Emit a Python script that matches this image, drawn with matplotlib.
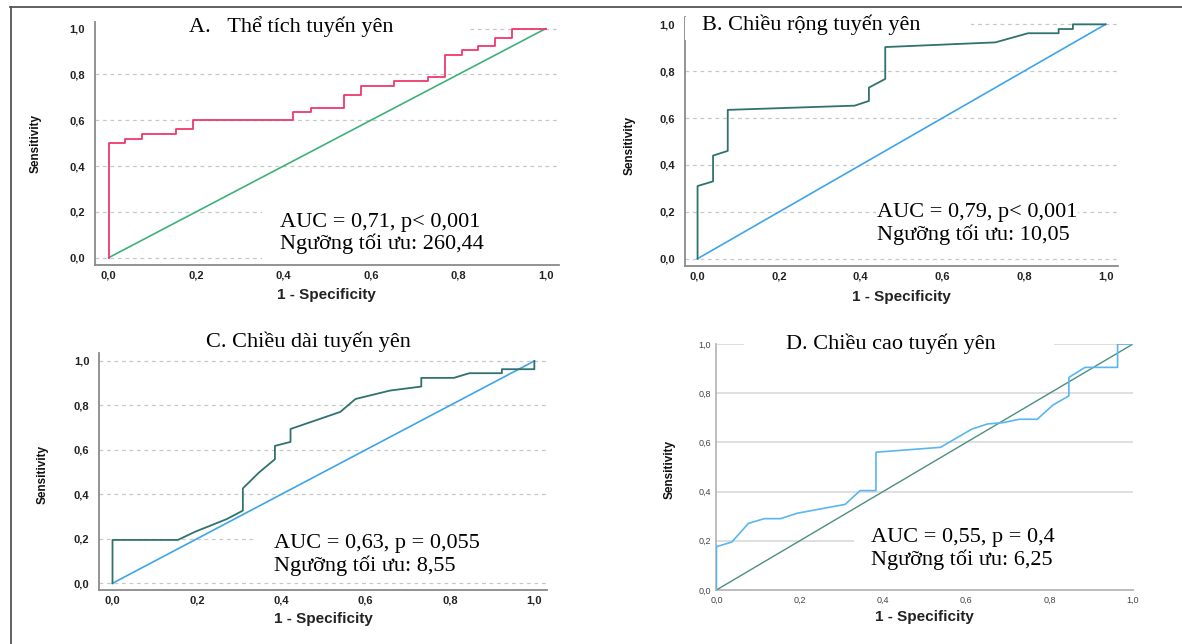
import matplotlib
matplotlib.use('Agg')
import matplotlib.pyplot as plt
from matplotlib.patches import Rectangle
from matplotlib.lines import Line2D

# ROC data
fpr_a = [0, 0, 0.038, 0.038, 0.077, 0.077, 0.154, 0.154, 0.192, 0.192, 0.423, 0.423, 0.462, 0.462,
         0.538, 0.538, 0.577, 0.577, 0.654, 0.654, 0.731, 0.731, 0.769, 0.769, 0.808, 0.808,
         0.846, 0.846, 0.885, 0.885, 0.923, 0.923, 1.0]
tpr_a = [0, 0.5, 0.5, 0.52, 0.52, 0.54, 0.54, 0.56, 0.56, 0.6, 0.6, 0.635, 0.635, 0.655, 0.655,
         0.71, 0.71, 0.75, 0.75, 0.77, 0.77, 0.79, 0.79, 0.885, 0.885, 0.905, 0.905, 0.925, 0.925,
         0.96, 0.96, 1.0, 1.0]

fpr_b = [0, 0, 0.038, 0.038, 0.074, 0.074, 0.385, 0.42, 0.42, 0.46, 0.46, 0.73, 0.81, 0.885,
         0.885, 0.92, 0.92, 1.0]
tpr_b = [0, 0.31, 0.33, 0.44, 0.46, 0.635, 0.653, 0.673, 0.73, 0.767, 0.903, 0.923, 0.962, 0.962,
         0.98, 0.98, 1.0, 1.0]

fpr_c = [0, 0, 0.155, 0.196, 0.271, 0.309, 0.309, 0.347, 0.385, 0.385, 0.422, 0.422, 0.54, 0.576,
         0.658, 0.732, 0.732, 0.809, 0.846, 0.923, 0.923, 1.0, 1.0]
tpr_c = [0, 0.195, 0.195, 0.232, 0.289, 0.327, 0.427, 0.498, 0.558, 0.618, 0.636, 0.694, 0.771,
         0.829, 0.867, 0.885, 0.924, 0.924, 0.945, 0.945, 0.963, 0.963, 1.0]

fpr_d = [0, 0, 0.037, 0.077, 0.115, 0.154, 0.194, 0.309, 0.345, 0.383, 0.383, 0.538, 0.613, 0.651,
         0.687, 0.727, 0.77, 0.808, 0.846, 0.846, 0.885, 0.963, 0.963, 1.0]
tpr_d = [0, 0.176, 0.195, 0.271, 0.29, 0.29, 0.312, 0.348, 0.404, 0.404, 0.56, 0.58, 0.654, 0.675,
         0.68, 0.694, 0.694, 0.752, 0.789, 0.864, 0.905, 0.905, 1.0, 1.0]

ticks = [0, 0.2, 0.4, 0.6, 0.8, 1.0]
tick_labels = ['0,0', '0,2', '0,4', '0,6', '0,8', '1,0']

titles = ['A.   Thể tích tuyến yên', 'B. Chiều rộng tuyến yên',
          'C. Chiều dài tuyến yên', 'D. Chiều cao tuyến yên']
auc_lines = ['AUC = 0,71, p< 0,001', 'AUC = 0,79, p< 0,001',
             'AUC = 0,63, p = 0,055', 'AUC = 0,55, p = 0,4']
cut_lines = ['Ngưỡng tối ưu: 260,44', 'Ngưỡng tối ưu: 10,05',
             'Ngưỡng tối ưu: 8,55', 'Ngưỡng tối ưu: 6,25']

SERIF = 'Liberation Serif'
SANS = 'Liberation Sans'
NARROW = ['Liberation Sans Narrow', 'Liberation Sans']
TXT = 16

W, H = 1182, 644
fig = plt.figure(figsize=(W / 100, H / 100), dpi=100)


def rect(l, t, r, b):
    return [l / W, 1 - b / H, (r - l) / W, (b - t) / H]


axA = fig.add_axes(rect(94.7, 21.8, 558.7, 265))
axB = fig.add_axes(rect(684.5, 17.3, 1117.8, 266.2))
axC = fig.add_axes(rect(99, 353.2, 547, 590.4))
axD = fig.add_axes(rect(716.4, 344, 1133, 590))


def setup(ax, lims, dashed=True, small=False):
    ax.set_xlim(lims[0], lims[1])
    ax.set_ylim(lims[2], lims[3])
    for s in ['top', 'right']:
        ax.spines[s].set_visible(False)
    spc = '#b8b8b8' if small else '#8a8a8a'
    for s in ['left', 'bottom']:
        ax.spines[s].set_color(spc)
        ax.spines[s].set_linewidth(1.3)
    ax.set_xticks(ticks)
    ax.set_yticks(ticks)
    if small:
        ax.set_xticklabels(tick_labels, fontsize=6.5, family=SANS, color='#444444')
        ax.set_yticklabels(tick_labels, fontsize=6.5, family=SANS, color='#444444')
        ax.tick_params(length=0, pad=4)
    else:
        ax.set_xticklabels(tick_labels, fontsize=8, family=SANS, fontweight='bold', color='#222222')
        ax.set_yticklabels(tick_labels, fontsize=8, family=SANS, fontweight='bold', color='#222222')
        ax.tick_params(axis='y', length=0, pad=7)
        ax.tick_params(axis='x', length=0, pad=4)
    for t in ticks:
        if dashed:
            ax.axhline(t, color='#c8c8c8', lw=0.9, ls=(0, (3, 3)), zorder=0.5)
        elif t > 0:
            ax.axhline(t, color='#d6d6d6', lw=1.1, zorder=0.5)


pad_lims = (-0.032, 1.03, -0.032, 1.03)
setup(axA, pad_lims)
setup(axB, pad_lims)
setup(axC, (-0.032, 1.03, -0.032, 1.035))
setup(axD, (0, 1, 0, 1), dashed=False, small=True)

# white boxes that hide grid lines behind the texts
axA.add_patch(Rectangle((-0.032, 0.975), 0.856, 0.06, facecolor='white', edgecolor='none', zorder=1))
axA.add_patch(Rectangle((0.35, -0.03), 0.7, 0.29, facecolor='white', edgecolor='none', zorder=1))
axB.add_patch(Rectangle((-0.045, 0.935), 0.715, 0.1, facecolor='white', edgecolor='none', zorder=2.6))
axC.add_patch(Rectangle((0.34, 0.14), 0.7, 0.11, facecolor='white', edgecolor='none', zorder=1))
axD.add_patch(Rectangle((0.066, 0.97), 0.744, 0.04, facecolor='white', edgecolor='none', zorder=1))
axD.add_patch(Rectangle((0.33, 0.16), 0.7, 0.09, facecolor='white', edgecolor='none', zorder=1))

# diagonals and curves
axA.plot([0, 1], [0, 1], color='#3fb07a', lw=1.2, zorder=3)
axA.plot(fpr_a, tpr_a, color='#f0386c', lw=1.3, zorder=3)
axB.plot([0, 1], [0, 1], color='#3da5ea', lw=1.2, zorder=3)
axB.plot(fpr_b, tpr_b, color='#2f726e', lw=1.3, zorder=3)
axC.plot([0, 1], [0, 1], color='#3da5ea', lw=1.2, zorder=3)
axC.plot(fpr_c, tpr_c, color='#2f726e', lw=1.3, zorder=3)
axD.plot([0, 1], [0, 1], color='#4d8e80', lw=1.0, zorder=3)
axD.plot(fpr_d, tpr_d, color='#5ab6f0', lw=1.2, zorder=3)

# titles
axA.text(0.418, 1.009, titles[0], ha='center', va='center', fontsize=TXT, family=SERIF, zorder=4)
axB.text(0.012, 1.0, titles[1], ha='left', va='center', fontsize=TXT, family=SERIF, zorder=4)
axC.text(0.465, 1.087, titles[2], ha='center', va='center', fontsize=TXT, family=SERIF, zorder=4,
         clip_on=False)
axD.text(0.42, 1.0, titles[3], ha='center', va='center', fontsize=TXT, family=SERIF, zorder=4,
         clip_on=False)

# AUC / cut-off texts (baselines)
auc_pos = [(axA, 0.392, 0.135, 0.036), (axB, 0.44, 0.176, 0.081),
           (axC, 0.384, 0.157, 0.055), (axD, 0.372, 0.194, 0.1)]
for i, (ax, x, y1, y2) in enumerate(auc_pos):
    ax.text(x, y1, auc_lines[i], ha='left', va='baseline', fontsize=TXT, family=SERIF, zorder=4,
            bbox=dict(facecolor='white', edgecolor='none', pad=0.5))
    ax.text(x, y2, cut_lines[i], ha='left', va='baseline', fontsize=TXT, family=SERIF, zorder=4)

# axis labels
lab_pos = [(axA, -0.127, 0.5, -0.123), (axB, -0.126, 0.483, -0.1225),
           (axC, -0.126, 0.487, -0.12), (axD, -0.112, 0.488, -0.108)]
for ax, sx, sy, xy in lab_pos:
    ax.text(sx, sy, 'Sensitivity', transform=ax.transAxes, rotation=90, ha='center', va='center',
            fontsize=8.5, family=NARROW, fontweight='bold', color='#111111')
    ax.text(0.5, xy, '1 - Specificity', transform=ax.transAxes, ha='center', va='center',
            fontsize=11, family=SANS, fontweight='bold', color='#222222')

# frame lines around the composite
fig.add_artist(Line2D([11 / W, 11 / W], [0, 1 - 7 / H], color='#555555', lw=1.3))
fig.add_artist(Line2D([10 / W, 1], [1 - 7 / H, 1 - 7 / H], color='#555555', lw=1.3))

plt.savefig('out.png', dpi=100)
plt.close()
